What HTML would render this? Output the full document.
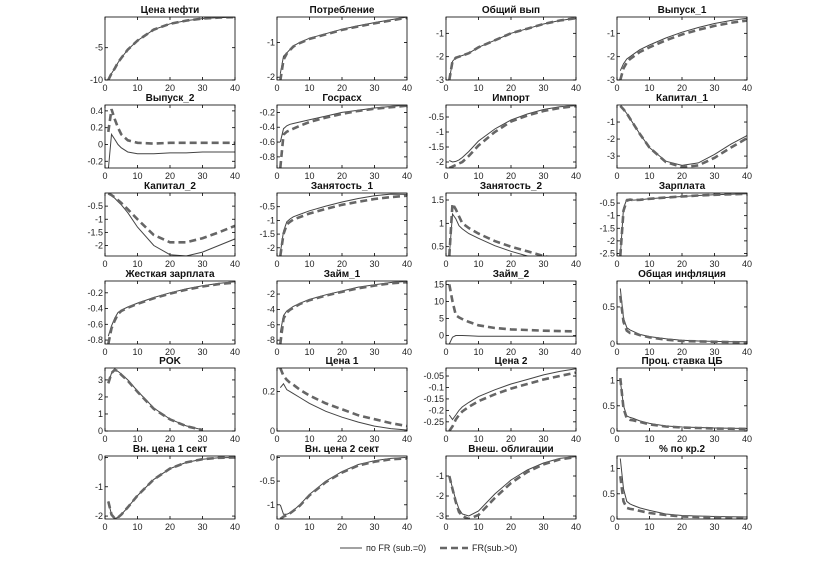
<!DOCTYPE html>
<html><head><meta charset="utf-8">
<style>
body{margin:0;background:#fff;}
svg{display:block;font-family:"Liberation Sans","DejaVu Sans",sans-serif;}
.tk{font-size:9px;fill:#222;}
.tt{font-size:10px;font-weight:bold;fill:#111;}
</style></head>
<body>
<svg id="chart" width="824" height="570" viewBox="0 0 824 570" xmlns="http://www.w3.org/2000/svg">
<rect width="824" height="570" fill="#fff"/>
</svg>
<script>
const xs=[1,2,3,4,5,7,10,15,20,25,30,35,40];
const xTicks=[0,10,20,30,40];
const titles=["Цена нефти","Потребление","Общий вып","Выпуск_1","Выпуск_2","Госрасх","Импорт","Капитал_1","Капитал_2","Занятость_1","Занятость_2","Зарплата","Жесткая зарплата","Займ_1","Займ_2","Общая инфляция","POK","Цена 1","Цена 2","Проц. ставка ЦБ","Вн. цена 1 сект","Вн. цена 2 сект","Внеш. облигации","% по кр.2"];
const yRange=[[-10,-0.25],[-2.08,-0.27],[-3,-0.3],[-3,-0.3],[-0.28,0.47],[-0.95,-0.1],[-2.2,-0.1],[-3.7,0],[-2.4,0],[-2.3,0],[0.3,1.65],[-2.6,-0.1],[-0.85,-0.05],[-8.5,-0.3],[-2.5,16],[0,0.85],[0,3.7],[0,0.32],[-0.29,-0.015],[0,1.25],[-2.1,0.05],[-1.3,0.03],[-3.15,0],[0,1.25]];
const yTicks=[[-10,-5],[-2,-1],[-3,-2,-1],[-3,-2,-1],[-0.2,0,0.2,0.4],[-0.8,-0.6,-0.4,-0.2],[-2,-1.5,-1,-0.5],[-3,-2,-1],[-2,-1.5,-1,-0.5],[-2,-1.5,-1,-0.5],[0.5,1,1.5],[-2.5,-2,-1.5,-1,-0.5],[-0.8,-0.6,-0.4,-0.2],[-8,-6,-4,-2],[0,5,10,15],[0,0.5],[0,1,2,3],[0,0.2],[-0.25,-0.2,-0.15,-0.1,-0.05],[0,0.5,1],[-2,-1,0],[-1,-0.5,0],[-3,-2,-1],[0,0.5,1]];
const solid=[
[-10,-9,-8.2,-7.3,-6.6,-5.3,-3.9,-2.2,-1.3,-0.8,-0.5,-0.35,-0.27],
[-1.9,-1.4,-1.3,-1.2,-1.1,-1.0,-0.88,-0.75,-0.62,-0.52,-0.43,-0.35,-0.27],
[-3,-2.2,-2.05,-2.0,-1.95,-1.85,-1.6,-1.3,-1.0,-0.8,-0.6,-0.45,-0.35],
[-2.6,-2.3,-2.1,-2.0,-1.9,-1.7,-1.5,-1.2,-0.95,-0.75,-0.58,-0.45,-0.35],
[-0.3,0.12,0.06,0.0,-0.04,-0.09,-0.11,-0.11,-0.1,-0.1,-0.09,-0.09,-0.09],
[-0.6,-0.42,-0.38,-0.36,-0.35,-0.33,-0.3,-0.25,-0.2,-0.17,-0.14,-0.12,-0.1],
[-1.95,-2.0,-1.98,-1.93,-1.85,-1.65,-1.3,-0.9,-0.6,-0.4,-0.25,-0.16,-0.12],
[-0.05,-0.25,-0.5,-0.8,-1.1,-1.7,-2.5,-3.3,-3.55,-3.4,-2.9,-2.3,-1.8],
[-0.03,-0.1,-0.2,-0.33,-0.45,-0.75,-1.3,-2.0,-2.35,-2.4,-2.25,-2.0,-1.75],
[-2.2,-1.4,-1.05,-0.95,-0.87,-0.78,-0.65,-0.48,-0.33,-0.2,-0.1,-0.04,-0.05],
[0.3,1.2,1.1,0.95,0.88,0.78,0.68,0.52,0.4,0.3,0.2,0.15,0.1],
[-2.6,-0.7,-0.35,-0.35,-0.38,-0.37,-0.33,-0.28,-0.24,-0.2,-0.17,-0.15,-0.13],
[-0.75,-0.62,-0.52,-0.45,-0.42,-0.38,-0.33,-0.26,-0.2,-0.15,-0.11,-0.08,-0.06],
[-7,-4.8,-4.2,-3.9,-3.6,-3.2,-2.7,-2.1,-1.6,-1.1,-0.8,-0.5,-0.35],
[-2.5,-0.5,0,0,0,-0.1,-0.2,-0.2,-0.2,-0.2,-0.2,-0.2,-0.2],
[0.75,0.35,0.22,0.19,0.17,0.13,0.1,0.07,0.05,0.04,0.035,0.03,0.03],
[2.8,3.4,3.6,3.5,3.35,3.0,2.35,1.35,0.7,0.3,0.07,null,null],
[0.22,0.24,0.21,0.2,0.19,0.17,0.14,0.1,0.07,0.045,0.025,0.012,0.005],
[-0.22,-0.24,-0.22,-0.2,-0.185,-0.165,-0.14,-0.11,-0.085,-0.065,-0.045,-0.03,-0.018],
[1.0,0.5,0.3,0.27,0.25,0.2,0.15,0.1,0.08,0.07,0.06,0.055,0.05],
[-1.5,-1.95,-2.08,-2.05,-1.95,-1.7,-1.3,-0.75,-0.38,-0.17,-0.06,-0.01,0],
[-1.0,-1.2,-1.2,-1.17,-1.12,-1.0,-0.78,-0.5,-0.3,-0.15,-0.07,-0.02,0],
[-1,-1.6,-2.2,-2.65,-2.9,-3.0,-2.75,-1.9,-1.2,-0.7,-0.35,-0.12,-0.03],
[1.2,0.6,0.35,0.3,0.27,0.22,0.17,0.1,0.07,0.06,0.05,0.045,0.04]];
const dashed=[
[-10,-9,-8.2,-7.3,-6.6,-5.3,-3.9,-2.2,-1.3,-0.8,-0.5,-0.35,-0.27],
[-2.1,-1.5,-1.32,-1.22,-1.12,-1.02,-0.9,-0.77,-0.64,-0.54,-0.45,-0.37,-0.29],
[-3,-2.2,-2.05,-2.0,-1.95,-1.85,-1.6,-1.3,-1.0,-0.8,-0.6,-0.45,-0.35],
[-3,-2.5,-2.25,-2.1,-2.0,-1.8,-1.6,-1.3,-1.05,-0.85,-0.68,-0.55,-0.45],
[0.15,0.42,0.3,0.2,0.12,0.05,0.02,0.01,0.02,0.02,0.02,0.02,0.02],
[-0.95,-0.5,-0.46,-0.44,-0.42,-0.38,-0.33,-0.27,-0.22,-0.18,-0.15,-0.13,-0.11],
[-2.2,-2.15,-2.1,-2.05,-2.0,-1.8,-1.45,-1.0,-0.65,-0.45,-0.3,-0.2,-0.13],
[-0.05,-0.25,-0.5,-0.8,-1.1,-1.7,-2.5,-3.35,-3.65,-3.55,-3.1,-2.5,-1.95],
[-0.02,-0.08,-0.17,-0.27,-0.38,-0.62,-1.0,-1.6,-1.88,-1.88,-1.72,-1.5,-1.25],
[-2.3,-1.5,-1.15,-1.05,-0.97,-0.88,-0.75,-0.58,-0.43,-0.32,-0.22,-0.15,-0.1],
[0.3,1.42,1.3,1.15,1.0,0.9,0.78,0.62,0.5,0.4,0.3,0.22,0.16],
[-2.6,-0.8,-0.4,-0.36,-0.38,-0.37,-0.33,-0.28,-0.24,-0.2,-0.17,-0.15,-0.13],
[-0.85,-0.65,-0.55,-0.47,-0.43,-0.39,-0.34,-0.27,-0.21,-0.16,-0.12,-0.09,-0.07],
[-8.5,-5.2,-4.4,-4.05,-3.8,-3.3,-2.8,-2.2,-1.7,-1.25,-0.9,-0.6,-0.45],
[15,10,6,5.3,4.8,4,3,2.2,1.8,1.6,1.4,1.3,1.2],
[0.65,0.3,0.18,0.15,0.15,0.12,0.09,0.06,0.04,0.035,0.03,0.025,0.02],
[2.8,3.4,3.6,3.5,3.3,2.95,2.3,1.3,0.68,0.28,0.06,null,null],
[0.32,0.28,0.26,0.245,0.235,0.21,0.18,0.14,0.11,0.08,0.06,0.04,0.025],
[-0.29,-0.27,-0.24,-0.22,-0.205,-0.185,-0.16,-0.13,-0.105,-0.085,-0.065,-0.05,-0.035],
[1.05,0.45,0.25,0.22,0.21,0.18,0.13,0.09,0.07,0.06,0.05,0.045,0.04],
[-1.5,-1.95,-2.08,-2.05,-1.95,-1.7,-1.3,-0.75,-0.38,-0.17,-0.06,-0.01,0],
[-1.3,-1.25,-1.22,-1.18,-1.13,-1.02,-0.8,-0.52,-0.32,-0.17,-0.09,-0.04,-0.02],
[-1,-1.65,-2.3,-2.8,-3.0,-3.15,-2.95,-2.1,-1.35,-0.8,-0.42,-0.17,-0.05],
[0.85,0.35,0.22,0.2,0.19,0.16,0.12,0.08,0.05,0.04,0.035,0.03,0.03]];

const NS="http://www.w3.org/2000/svg";
const svg=document.getElementById('chart');
const colLeft=[105,277,446,617], rowTop=[17,105,193,281,368,456], PW=130, PH=63;
function mk(tag,attrs,parent){const e=document.createElementNS(NS,tag);for(const k in attrs)e.setAttribute(k,attrs[k]);(parent||svg).appendChild(e);return e;}
function fmt(v){let s=String(v);return s.replace(/^(-?)0\./,'$10.');}
titles.forEach((t,i)=>{
  const L=colLeft[i%4], T=rowTop[Math.floor(i/4)];
  const [y0,y1]=yRange[i];
  const sx=x=>L+x/40*PW;
  const sy=v=>T+PH-(v-y0)/(y1-y0)*PH;
  const g=mk('g',{});
  
  
  const cp=mk('clipPath',{id:'c'+i},g);mk('rect',{x:L,y:T,width:PW,height:PH},cp);
  const tt=mk('text',{x:L+PW/2,y:T-4,'text-anchor':'middle',class:'tt'},g);tt.textContent=t;
  
  
  xTicks.forEach(x=>{
    mk('line',{x1:sx(x),x2:sx(x),y1:T+PH,y2:T+PH-3,stroke:'#000','stroke-width':0.8},g);
    mk('line',{x1:sx(x),x2:sx(x),y1:T,y2:T+3,stroke:'#000','stroke-width':0.8},g);
    const e=mk('text',{x:sx(x),y:T+PH+11,'text-anchor':'middle',class:'tk'},g);e.textContent=x;
    
    
  });
  yTicks[i].forEach(v=>{
    const y=sy(v);
    mk('line',{x1:L,x2:L+3,y1:y,y2:y,stroke:'#000','stroke-width':0.8},g);
    mk('line',{x1:L+PW,x2:L+PW-3,y1:y,y2:y,stroke:'#000','stroke-width':0.8},g);
    const e=mk('text',{x:L-2,y:y+3,'text-anchor':'end',class:'tk'},g);e.textContent=fmt(v);
    
    
  });
  function path(arr){let d='';let pen=false;arr.forEach((v,k)=>{if(v===null){pen=false;return;}d+=(pen?'L':'M')+sx(xs[k]).toFixed(1)+' '+sy(v).toFixed(1)+' ';pen=true;});return d;}
  const ps=mk('path',{d:path(solid[i]),fill:'none',stroke:'#444','stroke-width':1,'clip-path':'url(#c'+i+')'},g);
  
  
  const pd=mk('path',{d:path(dashed[i]),fill:'none',stroke:'#666','stroke-width':2.6,'stroke-dasharray':'7,4','clip-path':'url(#c'+i+')'},g);
  
  
  const fr=mk('rect',{x:L,y:T,width:PW,height:PH,fill:'none',stroke:'#000','stroke-width':0.8},g);
  
  
});
// legend
const lg=mk('g',{});


mk('line',{x1:340,x2:362,y1:548,y2:548,stroke:'#444','stroke-width':1},lg);
const l1=mk('text',{x:366,y:551,class:'tk','font-size':8},lg);l1.textContent='по FR (sub.=0)';


mk('line',{x1:440,x2:468,y1:548,y2:548,stroke:'#666','stroke-width':2.6,'stroke-dasharray':'7,4'},lg);
const l2=mk('text',{x:472,y:551,class:'tk','font-size':8},lg);l2.textContent='FR(sub.>0)';


</script>
</body></html>
